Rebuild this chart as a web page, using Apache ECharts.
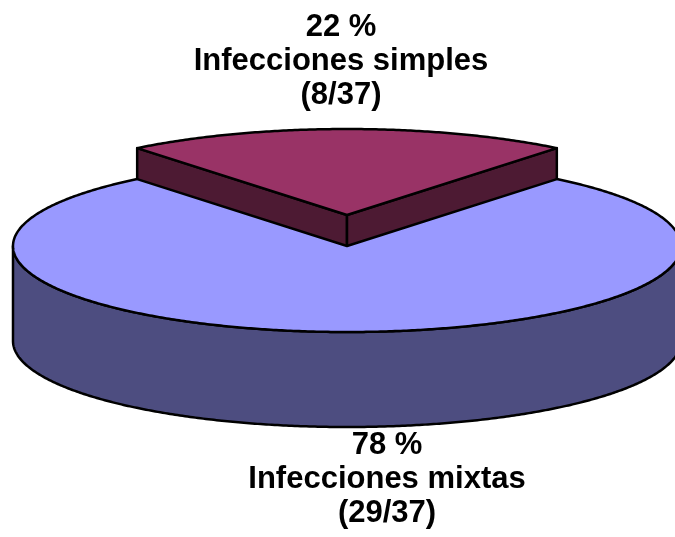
<!DOCTYPE html>
<html>
<head>
<meta charset="utf-8">
<script src="https://cdn.jsdelivr.net/npm/echarts@6/dist/echarts.min.js"></script>
<style>
html,body{margin:0;padding:0;background:#fff;}
#chart{width:675px;height:537px;}
</style>
</head>
<body>
<div id="chart"></div>
<script>
// ---- data ----
const categories = ['Infecciones simples', 'Infecciones mixtas'];
const values = [8, 29];
const topColors = ['#993366', '#9999ff'];
const sideColors = ['#4d1a33', '#4d4d80'];
const exploded = [true, false];

const total = values.reduce((a, b) => a + b, 0);

// ---- geometry of the 3D pie (layout, not data) ----
const G = { cx: 347, cy: 246, rx: 334, ry: 86, depth: 95, explode: 0.36 };
const LABEL = [
  { dx: -6, dy: -17, va: 'bottom' },
  { dx: 40, dy: 1, va: 'top' }
];
const DEG = Math.PI / 180;

function renderItem(params, api) {
  const i = params.dataIndex;
  const v = api.value(1);
  let cum = 0;
  for (let k = 0; k < i; k++) cum += values[k];
  // first slice centred at 12 o'clock, slices run clockwise
  const start = 90 + values[0] / total * 180;
  const hi = start - cum / total * 360;
  const lo = hi - v / total * 360;
  const mid = (lo + hi) / 2;
  const e = exploded[i] ? G.explode : 0;
  const ox = G.cx + e * G.rx * Math.cos(mid * DEG);
  const oy = G.cy - e * G.ry * Math.sin(mid * DEG);
  const P = (a, z) => [ox + G.rx * Math.cos(a * DEG), oy - G.ry * Math.sin(a * DEG) + z];
  const arc = (a0, a1, z) => {
    const pts = [];
    const n = Math.max(2, Math.ceil(Math.abs(a1 - a0) / 0.5));
    for (let s = 0; s <= n; s++) pts.push(P(a0 + (a1 - a0) * s / n, z));
    return pts;
  };
  const stroke = { stroke: '#000', lineWidth: 2.5, lineJoin: 'round' };
  const children = [];
  const D = G.depth;
  // cut walls
  if (Math.cos(hi * DEG) < -1e-9) {
    children.push({ type: 'polygon', shape: { points: [[ox, oy], P(hi, 0), P(hi, D), [ox, oy + D]] },
      style: Object.assign({ fill: sideColors[i] }, stroke) });
  }
  if (Math.cos(lo * DEG) > 1e-9) {
    children.push({ type: 'polygon', shape: { points: [[ox, oy], P(lo, 0), P(lo, D), [ox, oy + D]] },
      style: Object.assign({ fill: sideColors[i] }, stroke) });
  }
  // outer side: front half (sin < 0)
  for (let k = -2; k <= 2; k++) {
    const f0 = 180 + 360 * k, f1 = 360 + 360 * k;
    const a0 = Math.max(lo, f0), a1 = Math.min(hi, f1);
    if (a1 > a0) {
      const topArc = arc(a0, a1, 0);
      const botArc = arc(a1, a0, D);
      children.push({ type: 'polygon', shape: { points: topArc.concat(botArc) },
        style: Object.assign({ fill: sideColors[i] }, stroke) });
    }
  }
  // top face
  children.push({ type: 'polygon', shape: { points: [[ox, oy]].concat(arc(lo, hi, 0)) },
    style: Object.assign({ fill: topColors[i] }, stroke) });
  // label
  const pct = Math.round(v / total * 100);
  const L = LABEL[i];
  const down = Math.sin(mid * DEG) < 0;
  const anchor = down ? [ox + G.rx * Math.cos(mid * DEG), oy - G.ry * Math.sin(mid * DEG) + D]
                      : [ox + G.rx * Math.cos(mid * DEG), oy - G.ry * Math.sin(mid * DEG)];
  children.push({
    type: 'text',
    x: anchor[0] + L.dx, y: anchor[1] + L.dy,
    style: {
      text: pct + ' %\n' + categories[i] + '\n(' + v + '/' + total + ')',
      align: 'center', verticalAlign: L.va,
      fontSize: 31, fontWeight: 'bold', fontFamily: '"Liberation Sans", Arial, sans-serif',
      lineHeight: 34, fill: '#000'
    }
  });
  return { type: 'group', children: children };
}

const chart = echarts.init(document.getElementById('chart'), null, { renderer: 'canvas' });
chart.setOption({
  animation: false,
  backgroundColor: '#fff',
  series: [{
    type: 'custom',
    coordinateSystem: 'none',
    renderItem: renderItem,
    data: categories.map((c, i) => [i, values[i]])
  }]
});
</script>
</body>
</html>
